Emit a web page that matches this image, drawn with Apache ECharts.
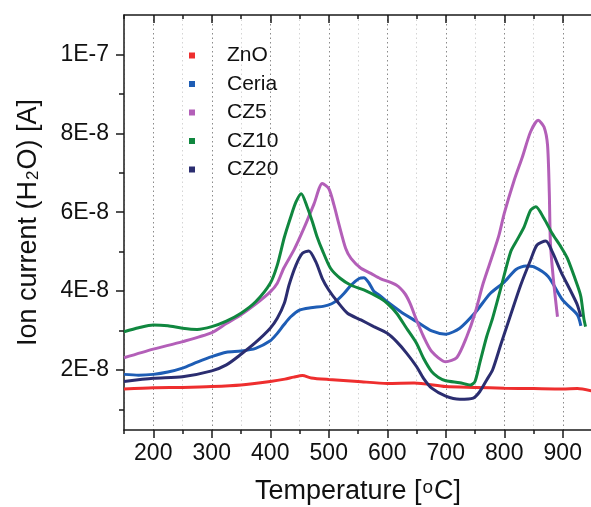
<!DOCTYPE html>
<html><head><meta charset="utf-8">
<script src="https://cdn.jsdelivr.net/npm/echarts@6/dist/echarts.min.js"></script>
<style>html,body{margin:0;padding:0;background:#fff}#c{width:591px;height:507px}</style>
</head><body><div id="c"></div>
<script>
// values in units of 1E-8 A, temperature in °C
const seriesNames = ['ZnO', 'Ceria', 'CZ5', 'CZ10', 'CZ20'];
const seriesColors = ['#ee2e2e', '#1e5db5', '#b35fb8', '#10873f', '#2b2d70'];

const znoData = [[150,1.52],[200,1.55],[250,1.56],[300,1.58],[350,1.62],[400,1.71],[425,1.77],[440,1.82],[455,1.86],[470,1.80],[500,1.76],[550,1.71],[600,1.66],[646,1.67],[700,1.58],[750,1.56],[800,1.54],[850,1.53],[900,1.52],[925,1.53],[950,1.47]];

const ceriaData = [[150,1.89],[175,1.87],[200,1.89],[225,1.95],[250,2.05],[275,2.2],[300,2.34],[325,2.45],[350,2.48],[375,2.55],[400,2.74],[412,2.93],[423,3.14],[435,3.35],[450,3.52],[469,3.58],[492,3.62],[505,3.68],[515,3.78],[526,3.94],[538,4.15],[552,4.32],[560,4.34],[569,4.2],[577,4.0],[588,3.88],[600,3.73],[623,3.48],[650,3.23],[676,2.99],[700,2.91],[724,3.06],[750,3.45],[776,3.94],[800,4.23],[820,4.55],[837,4.64],[850,4.62],[875,4.37],[900,3.77],[925,3.40],[931,3.12]];

const cz5Data = [[150,2.31],[200,2.53],[250,2.72],[300,2.95],[325,3.18],[350,3.40],[375,3.67],[400,3.98],[412,4.2],[423,4.58],[441,5.06],[458,5.61],[475,6.22],[489,6.73],[500,6.60],[509,6.18],[517,5.72],[529,5.08],[538,4.83],[555,4.58],[572,4.45],[588,4.32],[616,4.15],[630,3.94],[639,3.69],[650,3.27],[662,2.85],[676,2.47],[700,2.21],[719,2.32],[736,2.85],[750,3.44],[764,4.20],[780,4.91],[791,5.42],[800,5.97],[817,6.81],[831,7.40],[845,8.04],[858,8.33],[868,8.16],[874,7.7],[877,6.5],[879,5.2],[884,4.3],[891,3.35]];

const cz10Data = [[150,2.97],[175,3.07],[200,3.14],[225,3.12],[250,3.06],[275,3.03],[300,3.10],[325,3.24],[350,3.44],[375,3.73],[400,4.20],[412,4.66],[424,5.36],[435,5.88],[444,6.26],[453,6.47],[463,6.14],[472,5.76],[480,5.38],[489,5.04],[503,4.58],[520,4.32],[538,4.15],[560,4.03],[588,3.82],[600,3.69],[616,3.44],[633,3.06],[650,2.68],[662,2.30],[676,1.96],[687,1.82],[700,1.73],[724,1.68],[742,1.62],[750,1.71],[758,2.17],[770,2.85],[780,3.31],[794,4.07],[811,5.00],[822,5.30],[834,5.63],[845,6.05],[854,6.14],[868,5.84],[882,5.46],[897,5.12],[908,4.83],[925,4.15],[931,3.86],[936,3.31],[939,3.10]];

const cz20Data = [[150,1.71],[200,1.79],[250,1.83],[300,1.98],[325,2.13],[350,2.40],[375,2.70],[400,3.06],[412,3.31],[424,3.69],[432,4.15],[444,4.66],[455,4.96],[466,5.02],[478,4.74],[489,4.32],[500,4.03],[515,3.73],[532,3.44],[555,3.27],[577,3.10],[600,2.93],[616,2.72],[633,2.43],[650,2.09],[662,1.79],[676,1.54],[700,1.34],[724,1.26],[747,1.29],[758,1.45],[770,1.75],[780,2.0],[794,2.64],[811,3.40],[828,4.15],[845,4.79],[856,5.17],[871,5.27],[882,5.0],[897,4.49],[914,3.99],[925,3.65],[931,3.35]];

const allData = [znoData, ceriaData, cz5Data, cz10Data, cz20Data];

const xMin = 150, xMax = 950;
const xMajorTicks = [200, 300, 400, 500, 600, 700, 800, 900];
const yMin = 0.48, yMax = 11;
const yMajorTicks = [2, 4, 6, 8, 10];
const yMinorTicks = [1, 3, 5, 7, 9];
const yTickLabel = v => (v === 10 ? '1E-7' : v + 'E-8');

const FONT = '"Liberation Sans", Arial, sans-serif';
const AX = '#1a1a1a';

const chart = echarts.init(document.getElementById('c'), null, {renderer: 'canvas'});

const baseX = {type: 'value', min: xMin, max: xMax, gridIndex: 0};
const lineSt = {color: AX, width: 1.5};

const option = {
  animation: false,
  backgroundColor: '#fff',
  grid: {left: 124, top: 15, width: 468, height: 415, containLabel: false, outerBoundsMode: 'none'},
  legend: {
    orient: 'vertical', left: 189, top: 45, padding: 0,
    itemWidth: 6, itemHeight: 6, itemGap: 7.5, icon: 'rect',
    textStyle: {fontFamily: FONT, fontSize: 21, color: '#111', lineHeight: 21, padding: [0, 0, 0, 27]},
    data: seriesNames
  },
  xAxis: [
    Object.assign({}, baseX, {
      position: 'bottom', interval: 50,
      axisLine: {show: true, lineStyle: lineSt},
      axisTick: {show: true, length: 4, lineStyle: lineSt},
      axisLabel: {show: true, fontFamily: FONT, fontSize: 23, color: '#111', margin: 12,
        formatter: v => (v % 100 === 0 && v >= 200 && v <= 900 ? String(v) : '')},
      splitLine: {show: true, lineStyle: {type: [1.5, 3], width: 1, color: ['#d4d4d4', '#8a8a8a']}},
      name: 'Temperature [{sup|o}C]', nameLocation: 'middle', nameGap: 48,
      nameTextStyle: {fontFamily: FONT, fontSize: 27, color: '#111', verticalAlign: 'top', lineHeight: 28,
        rich: {sup: {fontFamily: FONT, fontSize: 19, color: '#111', verticalAlign: 'top', lineHeight: 14, padding: [0, 1, 0, 1]}}}
    }),
    Object.assign({}, baseX, {
      position: 'bottom',
      axisLine: {show: false},
      axisTick: {show: true, length: 8, lineStyle: lineSt, customValues: xMajorTicks},
      axisLabel: {show: false}, splitLine: {show: false}
    }),
    Object.assign({}, baseX, {
      position: 'top', interval: 50,
      axisLine: {show: true, lineStyle: lineSt},
      axisTick: {show: true, inside: true, length: 4, lineStyle: lineSt},
      axisLabel: {show: false}, splitLine: {show: false}
    }),
    Object.assign({}, baseX, {
      position: 'top',
      axisLine: {show: false},
      axisTick: {show: true, inside: true, length: 8, lineStyle: lineSt, customValues: xMajorTicks},
      axisLabel: {show: false}, splitLine: {show: false}
    })
  ],
  yAxis: [
    {
      type: 'value', min: yMin, max: yMax, position: 'left', gridIndex: 0,
      axisLine: {show: true, lineStyle: lineSt},
      axisTick: {show: true, length: 8, lineStyle: lineSt, customValues: yMajorTicks},
      axisLabel: {show: true, customValues: yMajorTicks, formatter: yTickLabel,
        fontFamily: FONT, fontSize: 23, color: '#111', margin: 15},
      splitLine: {show: false},
      name: 'Ion current (H{sub|2}O) [A]', nameLocation: 'middle', nameGap: 82,
      nameTextStyle: {fontFamily: FONT, fontSize: 27, color: '#111',
        rich: {sub: {fontFamily: FONT, fontSize: 17, color: '#111', verticalAlign: 'bottom', padding: [10, 1, 0, 1]}}}
    },
    {
      type: 'value', min: yMin, max: yMax, position: 'left', gridIndex: 0,
      axisLine: {show: false},
      axisTick: {show: true, length: 5, lineStyle: lineSt, customValues: yMinorTicks},
      axisLabel: {show: false}, splitLine: {show: false}
    }
  ],
  series: seriesNames.map((n, i) => ({
    name: n, type: 'line', xAxisIndex: 0, yAxisIndex: 0,
    data: allData[i], smooth: 0.25, showSymbol: false, symbol: 'rect',
    itemStyle: {color: seriesColors[i]},
    lineStyle: {color: seriesColors[i], width: 3},
    emphasis: {disabled: true}, z: 2 + i
  }))
};
chart.setOption(option);
</script>
</body></html>
